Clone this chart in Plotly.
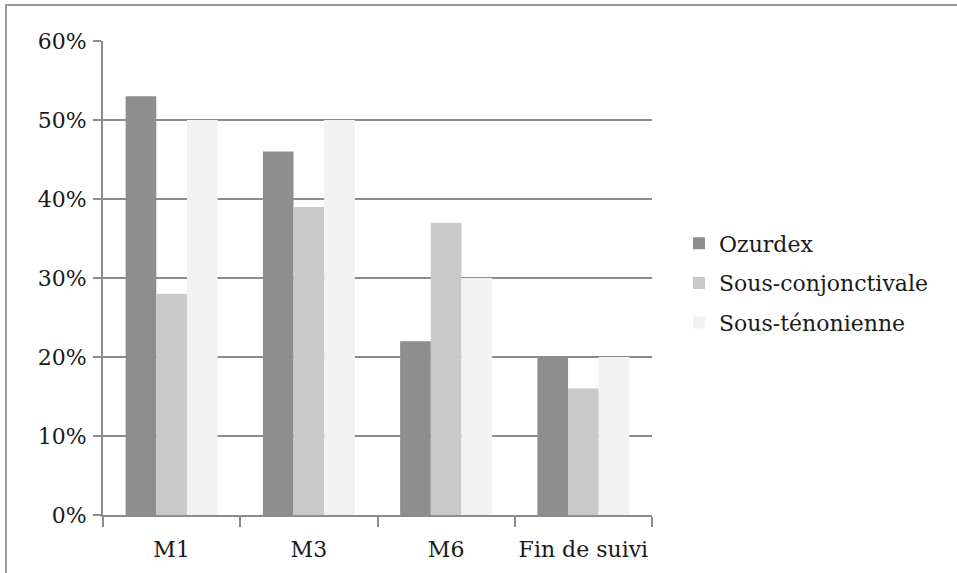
import plotly.graph_objects as go

# Proportion per follow-up visit for each injection route
categories = ["M1", "M3", "M6", "Fin de suivi"]
ozurdex = [53, 46, 22, 20]
sous_conjonctivale = [28, 39, 37, 16]
sous_tenonienne = [50, 50, 30, 20]

series_names = ["Ozurdex", "Sous-conjonctivale", "Sous-ténonienne"]
series_colors = ["#8e8e8e", "#c9c9c9", "#f2f2f2"]

y_tick_values = [0, 10, 20, 30, 40, 50, 60]
y_tick_labels = ["0%", "10%", "20%", "30%", "40%", "50%", "60%"]

W, H = 957, 573
L, R, T, B = 103, 305, 41, 58
plot_w = W - L - R
plot_h = H - T - B


def px_x(px):
    return (px - L) / plot_w


def px_y(py):
    return (H - B - py) / plot_h


font_family = "DejaVu Serif"
text_color = "#1a1a1a"
line_color = "#8c8c8c"

fig = go.Figure()
for name, values, color in zip(series_names,
                               [ozurdex, sous_conjonctivale, sous_tenonienne],
                               series_colors):
    fig.add_trace(go.Bar(
        x=categories,
        y=values,
        name=name,
        legendgroup=name,
        marker=dict(color=color, line=dict(width=0)),
        hoverinfo="x+y+name",
    ))

# Outer frame of the figure (top and left edges)
fig.add_shape(type="line", xref="paper", yref="paper",
              x0=px_x(5), x1=px_x(W + 5), y0=px_y(5), y1=px_y(5),
              line=dict(color="#9a9a9a", width=2))
fig.add_shape(type="line", xref="paper", yref="paper",
              x0=px_x(6), x1=px_x(6), y0=px_y(5), y1=px_y(H + 5),
              line=dict(color="#9a9a9a", width=2))

fig.update_layout(
    width=W, height=H,
    margin=dict(l=L, r=R, t=T, b=B, pad=0),
    paper_bgcolor="white",
    plot_bgcolor="white",
    barmode="group",
    bargap=0.33,
    bargroupgap=0,
    font=dict(family=font_family, size=22, color=text_color),
    showlegend=True,
    legend=dict(
        x=px_x(679), xanchor="left",
        y=px_y(283), yanchor="middle",
        font=dict(family=font_family, size=22, color=text_color),
        tracegroupgap=8,
        bgcolor="rgba(0,0,0,0)",
        itemclick=False,
    ),
    xaxis=dict(
        type="category",
        automargin=False,
        tickangle=0,
        ticklabelstandoff=14,
        showline=True, linecolor=line_color, linewidth=2,
        ticks="outside", ticklen=10, tickwidth=2, tickcolor=line_color,
        tickson="boundaries",
        showgrid=False,
        tickfont=dict(family=font_family, size=22, color=text_color),
    ),
    yaxis=dict(
        range=[0, 60],
        automargin=False,
        tickvals=y_tick_values,
        ticktext=y_tick_labels,
        ticklabelstandoff=2,
        showline=True, linecolor=line_color, linewidth=2,
        ticks="outside", ticklen=8, tickwidth=2, tickcolor=line_color,
        showgrid=True, gridcolor=line_color, gridwidth=2,
        zeroline=False,
        tickfont=dict(family=font_family, size=22, color=text_color),
    ),
)

fig.write_html("out.html")
